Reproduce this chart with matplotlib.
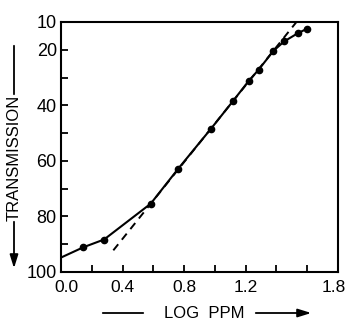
import numpy as np
import matplotlib.pyplot as plt
import matplotlib.transforms as mtransforms

# measured transmission vs log concentration
log_ppm = [0.00, 0.145, 0.28, 0.583, 0.762, 0.975, 1.12, 1.22, 1.284, 1.38, 1.45, 1.54, 1.60]
trans = [94.8, 91.1, 88.3, 75.4, 62.8, 48.4, 38.3, 31.2, 27.2, 20.4, 17.0, 14.0, 12.4]

# straight-line fit shown dashed
fit_x = [0.34, 1.53]
fit_y = [92.2, 10.0]

xticks = [0.0, 0.2, 0.4, 0.6, 0.8, 1.0, 1.2, 1.4, 1.6, 1.8]
xlabels = ["0.0", "", "0.4", "", "0.8", "", "1.2", "", "", "1.8"]
yticks = [10, 20, 30, 40, 50, 60, 70, 80, 90, 100]
ylabels = ["10", "20", "", "40", "", "60", "", "80", "", "100"]

plt.rcParams['font.family'] = ['Liberation Sans', 'DejaVu Sans']

W, H = 348, 322
fig = plt.figure(figsize=(W/100, H/100), dpi=100)
ax = fig.add_axes([61/W, 1-272/H, 277/W, 250/H])

ax.plot(fit_x, fit_y, color='black', lw=1.4, ls=(0, (4, 3)))
ax.plot(log_ppm, trans, color='black', lw=1.5, marker='o', ms=4.5,
        markevery=list(range(1, len(log_ppm))))

ax.set_xlim(0, 1.8)
ax.set_ylim(100, 10)
ax.set_xticks(xticks)
ax.set_xticklabels(xlabels)
ax.set_yticks(yticks)
ax.set_yticklabels(ylabels)
ax.tick_params(direction='in', length=5, width=1.3, labelsize=13)
ax.tick_params(axis='y', pad=3)
ax.tick_params(axis='x', pad=6, labelsize=12.5)
for s in ax.spines.values():
    s.set_linewidth(1.5)

# nudge the end labels so they clear the corner and the edge
xl = ax.get_xticklabels()
xl[0].set_transform(xl[0].get_transform() + mtransforms.ScaledTranslation(5/100, 0, fig.dpi_scale_trans))
xl[-1].set_transform(xl[-1].get_transform() + mtransforms.ScaledTranslation(-4/100, 0, fig.dpi_scale_trans))

# axis titles with arrows
def fx(px):
    return px / W

def fy(py):
    return 1 - py / H

fig.text(fx(14), fy(158), "TRANSMISSION", rotation=90, ha='center', va='center', fontsize=12)
ax.annotate("", xy=(fx(14), fy(97)), xytext=(fx(14), fy(43)), xycoords='figure fraction',
            arrowprops=dict(arrowstyle='-', lw=1.3, color='black'))
ax.annotate("", xy=(fx(14), fy(271)), xytext=(fx(14), fy(219)), xycoords='figure fraction',
            arrowprops=dict(arrowstyle='-|>,head_length=0.8,head_width=0.25', lw=1.3, color='black'))

fig.text(fx(204), fy(313), "LOG  PPM", ha='center', va='center', fontsize=12)
ax.annotate("", xy=(fx(146), fy(313)), xytext=(fx(100), fy(313)), xycoords='figure fraction',
            arrowprops=dict(arrowstyle='-', lw=1.3, color='black'))
ax.annotate("", xy=(fx(314), fy(313)), xytext=(fx(253), fy(313)), xycoords='figure fraction',
            arrowprops=dict(arrowstyle='-|>,head_length=0.8,head_width=0.25', lw=1.3, color='black'))

fig.savefig("out.png", dpi=100)
